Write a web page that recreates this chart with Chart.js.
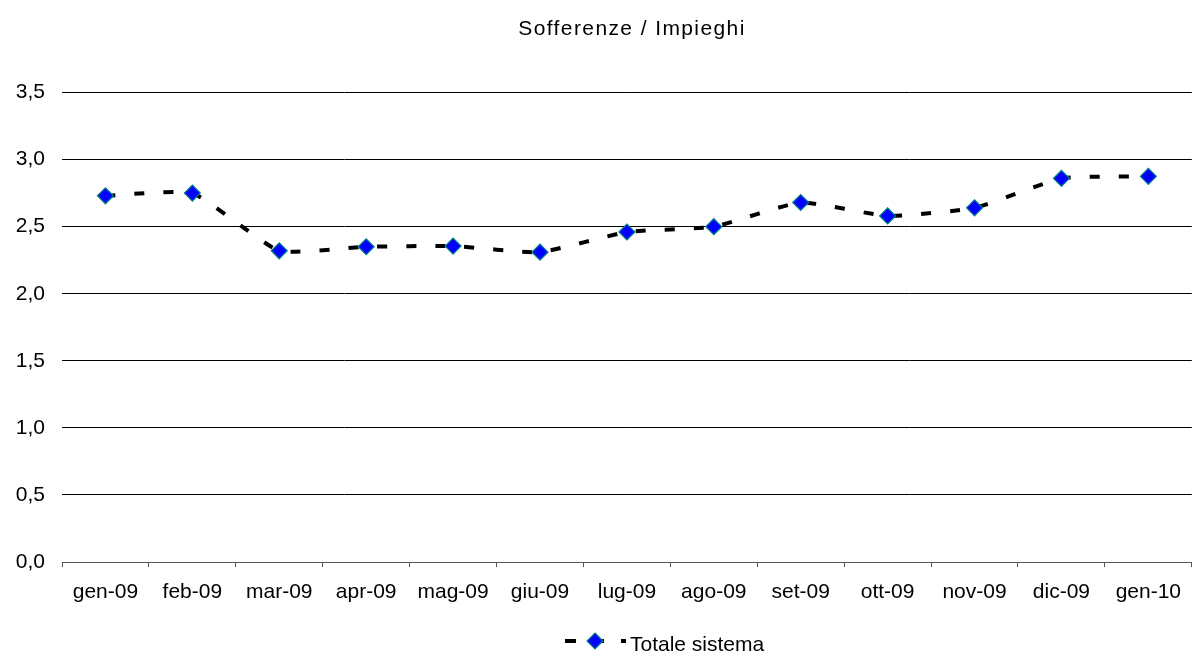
<!DOCTYPE html>
<html><head><meta charset="utf-8">
<script src="https://cdn.jsdelivr.net/npm/chart.js@4/dist/chart.umd.min.js"></script>
<style>html,body{margin:0;padding:0;background:#fff;overflow:hidden}#wrap{width:1198px;height:653px;overflow:hidden}</style>
</head><body><div id="wrap"><canvas id="c" width="1201" height="653"></canvas></div>
<script>
const categories = ['gen-09','feb-09','mar-09','apr-09','mag-09','giu-09','lug-09','ago-09','set-09','ott-09','nov-09','dic-09','gen-10'];
const totaleSistema = [2.73, 2.75, 2.32, 2.35, 2.355, 2.31, 2.46, 2.50, 2.68, 2.58, 2.64, 2.86, 2.875];
const seriesName = 'Totale sistema';
const chartTitle = 'Sofferenze / Impieghi';

const FONT = "'Liberation Sans', Arial, sans-serif";

// draws the title and the legend (line + marker sample and text)
const decor = {
  id: 'decor',
  afterDraw(chart) {
    const ctx = chart.ctx;
    const ds = chart.data.datasets[0];
    ctx.save();
    ctx.fillStyle = '#000';
    ctx.textBaseline = 'alphabetic';
    // title
    ctx.font = '21px ' + FONT;
    ctx.letterSpacing = '1.4px';
    ctx.textAlign = 'center';
    ctx.fillText(chartTitle, 632, 35);
    ctx.letterSpacing = '0px';
    // legend sample
    const ly = 641;
    ctx.strokeStyle = ds.borderColor; ctx.lineWidth = ds.borderWidth;
    ctx.setLineDash([11, 17]);
    ctx.beginPath(); ctx.moveTo(565, ly); ctx.lineTo(626, ly); ctx.stroke();
    ctx.setLineDash([]);
    ctx.beginPath();
    ctx.moveTo(595, ly - 8); ctx.lineTo(603, ly); ctx.lineTo(595, ly + 8); ctx.lineTo(587, ly); ctx.closePath();
    ctx.fillStyle = ds.pointBackgroundColor; ctx.fill();
    ctx.strokeStyle = ds.pointBorderColor; ctx.lineWidth = ds.pointBorderWidth; ctx.stroke();
    ctx.fillStyle = '#000';
    ctx.textAlign = 'left';
    ctx.font = '21px ' + FONT;
    ctx.fillText(ds.label, 630, 651);
    ctx.restore();
  }
};

new Chart(document.getElementById('c'), {
  type: 'line',
  data: {
    labels: categories,
    datasets: [{
      label: seriesName,
      data: totaleSistema,
      borderColor: '#000',
      borderWidth: 4,
      borderDash: [10,19],
      tension: 0.15,
      pointStyle: 'rectRot',
      pointRadius: 8,
      pointHoverRadius: 8,
      pointBackgroundColor: '#0000FF',
      pointBorderColor: '#008080',
      pointBorderWidth: 1.2,
      fill: false
    }]
  },
  options: {
    responsive: false,
    animation: false,
    layout: { padding: { top: 92.5, right: 0, left: 0, bottom: 47.6 } },
    plugins: {
      tooltip: { enabled: false },
      title: { display: false },
      legend: { display: false }
    },
    scales: {
      x: {
        offset: true,
        grid: { offset: true, drawOnChartArea: false, drawTicks: true, tickLength: 5, color: '#555' },
        border: { display: true, color: '#555', width: 1 },
        ticks: { color: '#000', font: { family: FONT, size: 21 }, padding: 12.4, maxRotation: 0, autoSkip: false },
        afterFit: s => { s.height = 43.4; s.paddingLeft = 0; s.paddingRight = 0; }
      },
      y: {
        min: 0, max: 3.5,
        grid: { color: '#000', lineWidth: 1, drawTicks: false },
        border: { display: false },
        ticks: {
          stepSize: 0.5, color: '#000', font: { family: FONT, size: 21 }, padding: 17,
          callback: v => v.toFixed(1).replace('.', ',')
        },
        afterFit: s => { s.width = 62; s.paddingTop = 0; s.paddingBottom = 0; }
      }
    }
  },
  plugins: [decor]
});
</script>
</body></html>
